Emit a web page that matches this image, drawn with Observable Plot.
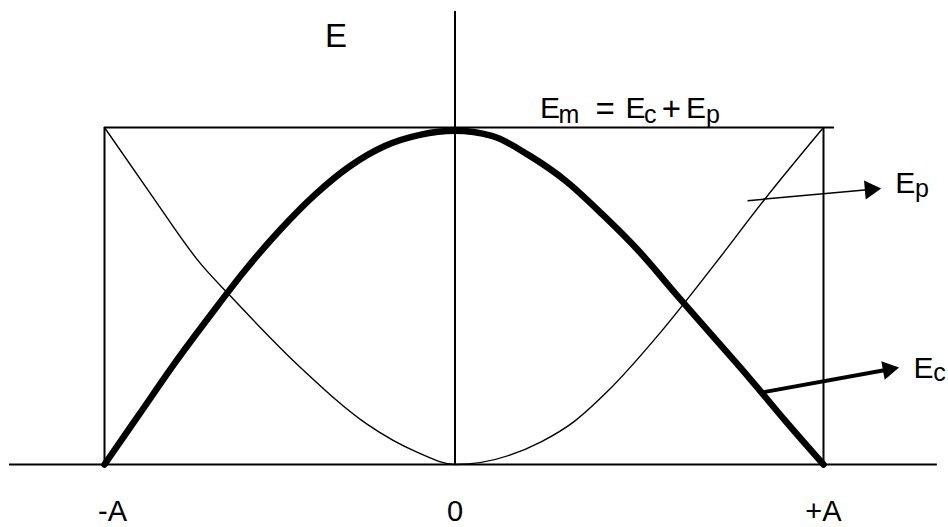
<!DOCTYPE html>
<html><head><meta charset="utf-8">
<script src="https://cdn.jsdelivr.net/npm/d3@7"></script>
<script src="https://cdn.jsdelivr.net/npm/@observablehq/plot@0.6"></script>
<style>html,body{margin:0;padding:0;background:#fff}#chart svg{display:block}</style>
</head><body><div id="chart"></div>
<script>
// Position x in units of amplitude A, energy E in units of Em
const ecX = [-1, -0.9, -0.8, -0.7, -0.6, -0.5, -0.4, -0.3, -0.2, -0.1, 0, 0.1, 0.2, 0.3, 0.4, 0.5, 0.6, 0.7, 0.8, 0.9, 1];
const ecE = [0, 0.15, 0.30, 0.44, 0.575, 0.695, 0.80, 0.885, 0.945, 0.978, 0.99, 0.975, 0.918, 0.842, 0.742, 0.632, 0.505, 0.38, 0.255, 0.125, 0];
const epX = [-1, -0.869, -0.726, -0.640, -0.441, -0.250, -0.107, 0, 0.235, 0.324, 0.414, 0.560, 0.704, 0.839, 1];
const epE = [1, 0.804, 0.596, 0.499, 0.288, 0.119, 0.036, 0, 0.068, 0.128, 0.217, 0.395, 0.593, 0.785, 1];

const tickLabels = ["-A", "0", "+A"];
const tickX = [-0.977, 0, 1];

// Annotation arrows: start and head of each arrow
const arrowX1 = [0.794, 0.834];
const arrowE1 = [0.783, 0.214];
const arrowX2 = [1.127, 1.176];
const arrowE2 = [0.816, 0.282];
const arrowWidth = [1.5, 4];
const arrowAngle = [84.9, 79.7];

// Formula and label pieces (main letter + subscript)
const labelText = ["E", "m", "=", "E", "c", "+", "E", "p", "E", "p", "E", "c"];
const labelX    = [0.231, 0.281, 0.381, 0.463, 0.513, 0.561, 0.627, 0.681, 1.195, 1.248, 1.244, 1.298];
const labelE    = [1.027, 1.012, 1.021, 1.027, 1.012, 1.021, 1.027, 1.012, 0.807, 0.795, 0.258, 0.249];
const labelSize = [30, 25, 33, 30, 25, 33, 30, 25, 30, 25, 30, 25];

const ec = ecX.map((x, i) => ({x, e: ecE[i]}));
const ep = epX.map((x, i) => ({x, e: epE[i]}));
const arrows = arrowX1.map((x1, i) => ({x1, y1: arrowE1[i], x2: arrowX2[i], y2: arrowE2[i], w: arrowWidth[i], a: arrowAngle[i]}));
const labels = labelText.map((t, i) => ({t, x: labelX[i], e: labelE[i], s: labelSize[i]}));
const ticks = tickLabels.map((t, i) => ({t, x: tickX[i]}));

const font = "'Liberation Sans', Arial, sans-serif";

const chart = Plot.plot({
  width: 948,
  height: 527,
  margin: 0,
  style: {background: "#fff", fontFamily: font},
  x: {type: "linear", domain: [-1, 0, 1], range: [104, 454.5, 823], axis: null},
  y: {type: "linear", domain: [0, 1], range: [464, 127], axis: null},
  marks: [
    Plot.ruleY([0], {x1: -1.271, x2: 1.309, stroke: "#000", strokeWidth: 2}),
    Plot.ruleX([0], {y1: 0, y2: 1.344, stroke: "#000", strokeWidth: 2}),
    Plot.ruleY([1], {x1: -1, x2: 1.03, stroke: "#000", strokeWidth: 2}),
    Plot.ruleX([-1, 1], {y1: 0, y2: 1, stroke: "#000", strokeWidth: 2}),
    Plot.line(ep, {x: "x", y: "e", curve: "monotone-x", stroke: "#000", strokeWidth: 1.4}),
    Plot.line(ec, {x: "x", y: "e", curve: "monotone-x", stroke: "#000", strokeWidth: 6.5}),
    Plot.link(arrows, {x1: "x1", y1: "y1", x2: "x2", y2: "y2", stroke: "#000", strokeWidth: d => d.w}),
    Plot.dot(arrows, {x: "x2", y: "y2", symbol: "triangle", r: 7, fill: "#000", stroke: "none", rotate: "a"}),
    Plot.text(labels, {x: "x", y: "e", text: "t", fontSize: d => d.s, textAnchor: "start", lineAnchor: "bottom", fill: "#000", fontFamily: font}),
    Plot.text(["E"], {x: -0.371, y: 1.240, text: d => d, fontSize: 33, textAnchor: "start", lineAnchor: "bottom", fill: "#000", fontFamily: font}),
    Plot.text(ticks, {x: "x", y: -0.168, text: "t", fontSize: 29, textAnchor: "middle", lineAnchor: "bottom", fill: "#000", fontFamily: font})
  ]
});
document.getElementById("chart").append(chart);
</script>
</body></html>
